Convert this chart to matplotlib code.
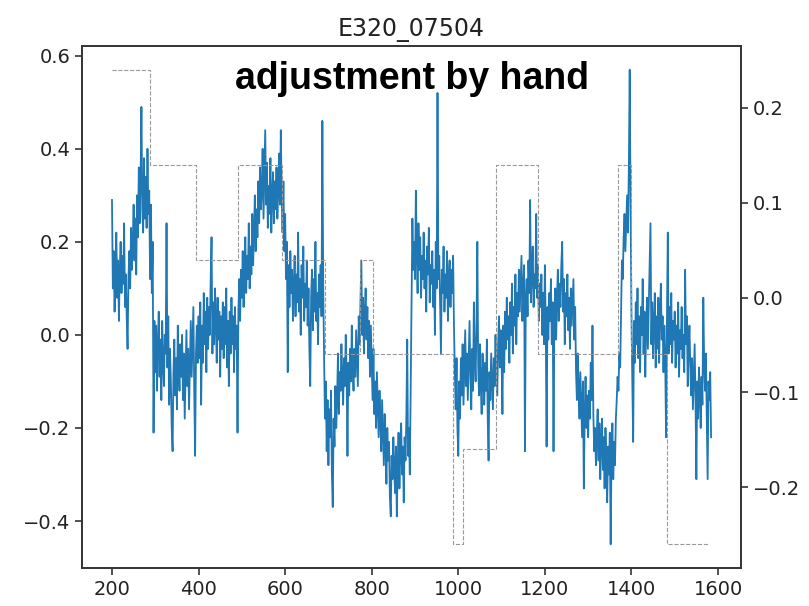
# quick replot of the E320_07504 trace with the hand adjustment steps
import numpy as np
import matplotlib.pyplot as plt

x_start = 200
x_step = 2
signal = [
    # 200 - 298
    0.29, 0.10, 0.18, 0.05, 0.15, 0.22, 0.08, 0.16, 0.03, 0.14,
    0.20, 0.09, 0.17, 0.11, 0.24, 0.06, 0.13, 0.04, -0.03, 0.12,
    0.18, 0.10, 0.23, 0.14, 0.20, 0.28, 0.16, 0.25, 0.13, 0.30,
    0.21, 0.36, 0.24, 0.33, 0.49, 0.27, 0.22, 0.38, 0.25, 0.34,
    0.23, 0.40, 0.26, 0.31, 0.12, 0.28, 0.09, 0.20, -0.21, 0.03,
    # 300 - 398
    -0.08, 0.02, -0.12, -0.02, 0.05, -0.09, -0.01, -0.14, 0.03, -0.06,
    -0.11, 0.00, -0.04, 0.24, -0.07, 0.04, -0.15, -0.03, -0.10, -0.20,
    -0.25, -0.08, -0.01, -0.13, -0.05, -0.16, 0.02, -0.07, -0.12, -0.02,
    -0.09, 0.00, -0.14, -0.04, -0.18, -0.08, 0.01, -0.11, -0.03, -0.16,
    -0.06, 0.03, -0.09, -0.01, 0.06, -0.12, -0.26, -0.04, 0.02, -0.06,
    # 400 - 498
    0.04, -0.05, 0.07, -0.15, 0.02, -0.06, 0.09, -0.02, 0.05, -0.08,
    0.08, -0.03, 0.06, 0.00, 0.12, 0.21, -0.04, 0.07, -0.02, 0.10,
    0.03, -0.06, 0.08, -0.01, 0.05, -0.09, 0.04, -0.03, 0.07, -0.05,
    0.06, -0.02, 0.10, -0.07, 0.03, -0.11, 0.05, -0.04, 0.08, -0.02,
    0.04, -0.08, 0.06, -0.03, 0.02, -0.21, 0.05, 0.12, 0.03, 0.14,
    # 500 - 598
    0.08, 0.18, 0.06, 0.15, 0.21, 0.09, 0.17, 0.12, 0.24, 0.10,
    0.19, 0.13, 0.26, 0.15, 0.22, 0.30, 0.18, 0.27, 0.21, 0.33,
    0.24, 0.36, 0.27, 0.31, 0.40, 0.25, 0.34, 0.44, 0.28, 0.37,
    0.23, 0.32, 0.26, 0.38, 0.22, 0.30, 0.35, 0.24, 0.33, 0.27,
    0.36, 0.25, 0.31, 0.39, 0.28, 0.44, 0.30, 0.22, 0.33, 0.18,
    # 600 - 698
    0.26, 0.12, 0.20, -0.08, 0.15, 0.06, 0.18, 0.09, 0.14, 0.03,
    0.11, 0.17, 0.04, 0.13, 0.07, 0.22, 0.05, 0.12, 0.00, 0.15,
    0.08, 0.19, 0.03, 0.11, 0.06, 0.16, 0.02, 0.10, -0.03, -0.11,
    0.08, 0.14, 0.01, 0.12, 0.05, 0.20, 0.03, 0.09, -0.02, 0.13,
    0.06, 0.15, 0.04, 0.46, 0.10, -0.05, -0.18, -0.10, -0.25, -0.14,
    # 700 - 798
    -0.28, -0.16, -0.22, -0.12, -0.30, -0.37, -0.18, -0.24, -0.11, -0.20,
    -0.14, -0.04, -0.17, -0.08, -0.12, -0.02, -0.09, -0.15, -0.05, -0.11,
    0.00, -0.08, -0.26, -0.06, -0.13, -0.03, -0.10, 0.02, -0.07, -0.12,
    -0.03, -0.09, 0.01, -0.05, -0.11, 0.04, -0.02, 0.07, 0.16, 0.00,
    0.08, -0.04, 0.05, 0.10, -0.01, 0.06, -0.05, 0.03, -0.09, 0.02,
    # 800 - 898
    -0.06, -0.14, -0.03, -0.17, -0.10, -0.20, -0.08, -0.15, -0.22, -0.12,
    -0.18, -0.25, -0.14, -0.21, -0.28, -0.17, -0.24, -0.32, -0.20, -0.27,
    -0.23, -0.35, -0.39, -0.26, -0.31, -0.22, -0.29, -0.34, -0.24, -0.39,
    -0.28, -0.21, -0.33, -0.25, -0.19, -0.30, -0.24, -0.36, -0.22, -0.27,
    -0.18, -0.01, -0.26, -0.20, -0.30, -0.12, 0.08, 0.25, 0.14, 0.20,
    # 900 - 998
    0.12, 0.31, 0.18, 0.09, 0.24, 0.14, 0.21, 0.08, 0.17, 0.12,
    0.22, 0.10, 0.16, 0.05, 0.19, 0.13, 0.23, 0.07, 0.15, 0.11,
    0.18, 0.06, 0.14, 0.00, 0.20, 0.10, 0.52, 0.12, 0.17, 0.07,
    -0.04, 0.14, 0.09, 0.19, 0.05, 0.13, 0.08, 0.18, 0.03, 0.12,
    0.16, 0.06, 0.14, 0.09, 0.17, 0.02, -0.08, -0.16, -0.05, -0.20,
    # 1000 - 1098
    -0.26, -0.10, -0.18, -0.05, -0.13, -0.02, -0.15, -0.07, 0.01, -0.11,
    -0.04, -0.14, -0.06, 0.03, -0.09, -0.16, -0.03, -0.12, 0.07, -0.05,
    -0.10, 0.02, 0.20, -0.07, -0.13, -0.02, -0.11, -0.17, -0.04, -0.09,
    -0.15, -0.06, -0.12, -0.01, -0.18, -0.27, -0.08, -0.14, -0.04, -0.10,
    -0.16, -0.05, -0.11, 0.00, -0.08, -0.13, -0.02, 0.04, -0.07, 0.01,
    # 1100 - 1198
    -0.05, -0.17, 0.02, -0.08, 0.05, -0.03, 0.08, -0.01, 0.04, -0.06,
    0.07, 0.00, 0.11, -0.04, 0.06, 0.02, 0.13, -0.02, 0.09, 0.04,
    0.14, 0.05, 0.11, 0.17, 0.03, 0.10, 0.15, -0.25, 0.08, 0.12,
    0.04, 0.16, 0.09, 0.29, 0.07, 0.14, 0.19, 0.06, 0.13, 0.10,
    0.26, 0.08, 0.15, 0.03, 0.11, 0.06, 0.13, 0.00, 0.09, -0.02,
    # 1200 - 1298
    0.15, 0.02, -0.24, 0.06, -0.01, 0.09, 0.03, 0.12, -0.02, 0.07,
    -0.25, 0.04, 0.10, -0.01, 0.08, 0.14, 0.03, 0.11, 0.06, 0.15,
    0.20, 0.05, 0.12, -0.02, 0.09, 0.04, 0.13, 0.01, 0.08, -0.03,
    0.10, 0.02, 0.07, 0.12, -0.01, 0.06, -0.08, -0.14, -0.04, -0.12,
    -0.18, -0.08, -0.15, -0.22, -0.10, -0.33, -0.17, -0.09, -0.20, -0.13,
    # 1300 - 1398
    -0.22, -0.12, -0.18, -0.06, -0.14, 0.02, -0.17, -0.25, -0.20, -0.28,
    -0.21, -0.16, -0.27, -0.19, -0.31, -0.23, -0.18, -0.29, -0.22, -0.33,
    -0.20, -0.27, -0.36, -0.24, -0.30, -0.21, -0.45, -0.26, -0.19, -0.31,
    -0.23, -0.28, -0.18, -0.14, -0.09, -0.12, -0.04, -0.07, 0.05, 0.16,
    0.12, 0.21, 0.26, 0.18, 0.24, 0.30, 0.22, 0.36, 0.57, 0.28,
    # 1400 - 1498
    0.05, -0.10, -0.23, 0.03, -0.06, 0.07, -0.02, 0.10, -0.05, 0.04,
    -0.08, 0.06, 0.00, 0.12, -0.04, 0.05, -0.09, 0.02, 0.08, -0.03,
    0.06, 0.14, 0.24, -0.02, 0.07, -0.05, 0.03, 0.09, -0.07, 0.04,
    -0.03, 0.08, -0.06, 0.05, 0.11, -0.01, 0.04, -0.08, 0.02, -0.05,
    -0.22, 0.03, 0.22, -0.04, 0.06, -0.02, 0.09, -0.06, 0.03, -0.01,
    # 1500 - 1584
    0.05, -0.07, 0.02, -0.04, 0.07, -0.09, 0.01, -0.03, 0.06, -0.05,
    0.00, -0.08, 0.14, -0.02, 0.04, -0.11, -0.03, 0.02, -0.07, -0.13,
    -0.05, -0.16, -0.09, -0.02, -0.14, -0.31, -0.10, -0.18, -0.07, -0.13,
    -0.20, -0.09, -0.15, 0.08, -0.06, -0.12, -0.04, -0.17, -0.31, -0.10,
    -0.14, -0.08, -0.22,
]

# hand adjustment (right axis), step edges and levels
step_edges = [200, 288, 395, 490, 593, 692, 773, 804, 988, 1011,
              1088, 1185, 1368, 1398, 1483, 1580]
step_levels = [0.24, 0.14, 0.04, 0.14, 0.04, -0.06, 0.04, -0.06, -0.26,
               -0.16, 0.14, -0.06, 0.14, -0.06, -0.26]

title = 'E320_07504'
note = 'adjustment by hand'


if __name__ == '__main__':
    xs = x_start + x_step * np.arange(len(signal))

    fig = plt.figure(figsize=(8.09, 6.06), dpi=100)
    ax = fig.add_axes([0.1014, 0.0627, 0.8146, 0.8614])
    ax.plot(xs, signal, color='#1f77b4', lw=1.3)

    # twin axis for the step
    ax2 = ax.twinx()
    lv = step_levels + [step_levels[-1]]
    ax2.step(step_edges, lv, where='post', color='#999999', lw=0.8, ls='--')

    for a in (ax, ax2):
        a.tick_params(labelsize=14, length=5, width=1.1, colors='#222222')
        for s in a.spines.values():
            s.set_linewidth(1.2)
            s.set_color('#333333')

    ax.set_title(title, fontsize=17, color='#222222', pad=7)
    ax.text(0.5, 0.937, note, transform=ax.transAxes, ha='center', va='center',
            fontsize=27, fontweight='bold', family=['Liberation Sans', 'DejaVu Sans'])

    fig.savefig('out.png', dpi=100)
